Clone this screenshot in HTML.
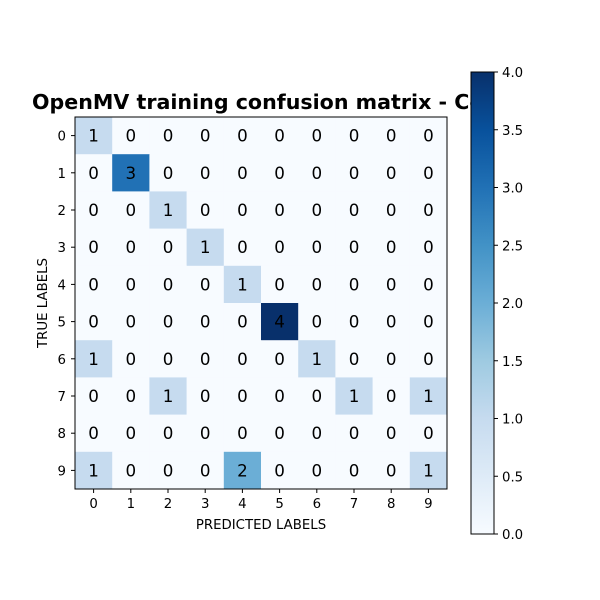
<!DOCTYPE html>
<html><head><meta charset="utf-8"><style>body{margin:0;background:#fff}svg{display:block;font-family:"DejaVu Sans","Liberation Sans",sans-serif}</style></head>
<body>
<svg id="chart" width="600" height="600">
<defs>
<clipPath id="tc"><rect x="0" y="0" width="471" height="600"/></clipPath>
<linearGradient id="cbg" x1="0" y1="1" x2="0" y2="0">
<stop offset="0" stop-color="#f7fbff"/><stop offset="0.125" stop-color="#deebf7"/><stop offset="0.25" stop-color="#c6dbef"/><stop offset="0.375" stop-color="#9ecae1"/><stop offset="0.5" stop-color="#6baed6"/><stop offset="0.625" stop-color="#4292c6"/><stop offset="0.75" stop-color="#2171b5"/><stop offset="0.875" stop-color="#08519c"/><stop offset="1" stop-color="#08306b"/>
</linearGradient>
</defs>
<text x="32" y="109" font-size="20.6" font-weight="bold" clip-path="url(#tc)">OpenMV training confusion matrix - Confusion</text>
<g id="cells"></g>
<rect x="75" y="117" width="372" height="372" fill="none" stroke="#000" stroke-width="1"/>
<g id="axes" font-size="13.3"></g>
<text x="261" y="529" font-size="13.3" text-anchor="middle">PREDICTED LABELS</text>
<text transform="translate(47,303) rotate(-90)" font-size="13.3" text-anchor="middle">TRUE LABELS</text>
<rect x="471" y="72" width="23" height="462" fill="url(#cbg)" stroke="#000" stroke-width="1"/>
<g id="cbticks" font-size="13.3"></g>
</svg>
<script>
const labels = [0,1,2,3,4,5,6,7,8,9];
const matrix = [
[1,0,0,0,0,0,0,0,0,0],
[0,3,0,0,0,0,0,0,0,0],
[0,0,1,0,0,0,0,0,0,0],
[0,0,0,1,0,0,0,0,0,0],
[0,0,0,0,1,0,0,0,0,0],
[0,0,0,0,0,4,0,0,0,0],
[1,0,0,0,0,0,1,0,0,0],
[0,0,1,0,0,0,0,1,0,1],
[0,0,0,0,0,0,0,0,0,0],
[1,0,0,0,2,0,0,0,0,1]
];
const cbTicks = ["0.0","0.5","1.0","1.5","2.0","2.5","3.0","3.5","4.0"];
const vmin = 0, vmax = 4;
const NS = "http://www.w3.org/2000/svg";
const x0 = 75, y0 = 117, size = 372, cell = size / labels.length;
const cbTop = 72, cbBot = 534;
function xPos(i){return x0 + i*cell;}
function yPos(i){return y0 + i*cell;}
function cbY(v){return cbBot - (v - vmin)/(vmax - vmin)*(cbBot - cbTop);}
const stops = [[0,[247,251,255]],[0.125,[222,235,247]],[0.25,[198,219,239]],[0.375,[158,202,225]],[0.5,[107,174,214]],[0.625,[66,146,198]],[0.75,[33,113,181]],[0.875,[8,81,156]],[1,[8,48,107]]];
function color(v){
  let t = (v - vmin)/(vmax - vmin); t = Math.max(0, Math.min(1, t));
  for (let k = 1; k < stops.length; k++) {
    if (t <= stops[k][0]) {
      const a = stops[k-1], b = stops[k], f = (t - a[0])/(b[0] - a[0]);
      const c = a[1].map((x, j) => Math.round(x + (b[1][j] - x)*f));
      return `rgb(${c.join(',')})`;
    }
  }
  return "rgb(8,48,107)";
}
function mk(tag, attrs, parent){const e = document.createElementNS(NS, tag); for (const k in attrs) e.setAttribute(k, attrs[k]); parent.appendChild(e); return e;}
const cg = document.getElementById('cells');
matrix.forEach((row, r) => row.forEach((v, c) => {
  const rect = mk('rect', {x: xPos(c), y: yPos(r), width: cell+0.3, height: cell+0.3, fill: color(v)}, cg);
  
  
  const t = mk('text', {x: xPos(c)+cell/2, y: yPos(r)+cell/2+6, 'font-size': 16.7, 'text-anchor': 'middle'}, cg);
  t.textContent = v;
  
  
}));
const ag = document.getElementById('axes');
labels.forEach((l, i) => {
  const cx = xPos(i)+cell/2, cy = yPos(i)+cell/2;
  mk('line', {x1: cx, x2: cx, y1: 489, y2: 493, stroke: '#000'}, ag);
  const tx = mk('text', {x: cx, y: 508, 'text-anchor': 'middle'}, ag);
  tx.textContent = l;
  
  
  mk('line', {x1: 71, x2: 75, y1: cy, y2: cy, stroke: '#000'}, ag);
  const ty = mk('text', {x: 66, y: cy+5, 'text-anchor': 'end'}, ag);
  ty.textContent = l;
  
  
});
const cbg = document.getElementById('cbticks');
cbTicks.forEach(s => {
  const y = cbY(parseFloat(s));
  mk('line', {x1: 494, x2: 498, y1: y, y2: y, stroke: '#000'}, cbg);
  const t = mk('text', {x: 502, y: y+5}, cbg);
  t.textContent = s;
  
  
});
</script>
</body></html>
